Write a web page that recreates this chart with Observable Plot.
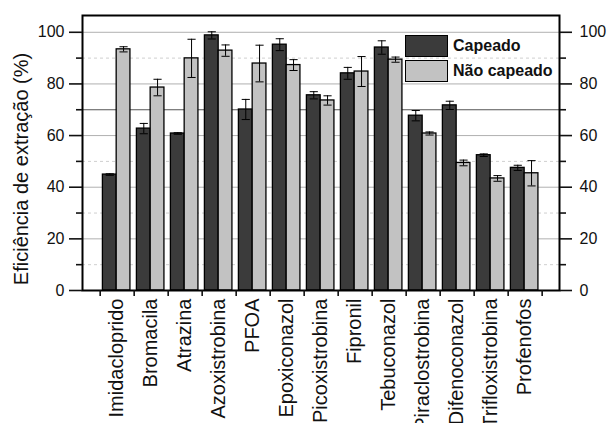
<!DOCTYPE html>
<html>
<head>
<meta charset="utf-8">
<script src="https://cdn.jsdelivr.net/npm/d3@7"></script>
<script src="https://cdn.jsdelivr.net/npm/@observablehq/plot@0.6"></script>
<style>
  html, body { margin: 0; padding: 0; background: white; }
  #wrap { position: relative; width: 609px; height: 423px; overflow: hidden; font-family: "Liberation Sans", Arial, sans-serif; }
  .leg { position: absolute; left: 405px; display: flex; align-items: center; font-weight: bold; font-size: 16px; color: #111; }
  .sw { width: 41px; height: 20px; border: 1.3px solid #000; margin-right: 5px; box-sizing: content-box; }
</style>
</head>
<body>
<div id="wrap"></div>
<script>
const categories = ["Imidacloprido","Bromacila","Atrazina","Azoxistrobina","PFOA","Epoxiconazol","Picoxistrobina","Fipronil","Tebuconazol","Piraclostrobina","Difenoconazol","Trifloxistrobina","Profenofos"];
const seriesNames = ["Capeado", "Não capeado"];
const capeado      = [44.9, 62.7, 60.8, 98.8, 70.1, 95.2, 75.6, 84.1, 94.1, 67.7, 71.7, 52.4, 47.5];
const capeadoErr   = [0.3, 2.0, 0.3, 1.4, 3.9, 2.3, 1.4, 2.3, 2.6, 2.0, 1.6, 0.5, 1.0];
const naoCapeado   = [93.4, 78.6, 89.9, 92.9, 87.9, 87.3, 73.6, 84.8, 89.4, 60.8, 49.4, 43.4, 45.4];
const naoCapeadoErr= [1.0, 3.2, 7.4, 2.2, 7.1, 2.1, 1.8, 5.8, 1.0, 0.6, 1.1, 1.1, 4.9];
const yMajorTicks = [0, 20, 40, 60, 80, 100];
const yMinorTicks = [10, 30, 50, 70, 90];
const yTitle = "Eficiência de extração (%)";

const colors = {"Capeado": "#3b3b3b", "Não capeado": "#c2c2c2"};
// slot of each series inside a category band [i, i+1]
const slot = {"Capeado": [0.08, 0.485], "Não capeado": [0.485, 0.89]};

const rows = [];
categories.forEach((c, i) => {
  rows.push({i, c, s: seriesNames[0], v: capeado[i], e: capeadoErr[i]});
  rows.push({i, c, s: seriesNames[1], v: naoCapeado[i], e: naoCapeadoErr[i]});
});
const mid = d => d.i + (slot[d.s][0] + slot[d.s][1]) / 2;
const boundaries = d3.range(categories.length + 1);
const font = "Liberation Sans, Arial, sans-serif";

const chart = Plot.plot({
  width: 609,
  height: 423,
  marginTop: 15,
  marginBottom: 133,
  marginLeft: 82,
  marginRight: 50,
  style: {fontFamily: font, fontSize: "16px", color: "#111", background: "white", overflow: "hidden"},
  x: {type: "linear", domain: [-0.52, categories.length + 0.51]},
  y: {domain: [0, 106.5]},
  marks: [
    Plot.ruleY([20, 40, 60, 80, 100], {stroke: "#b0b0b0", strokeWidth: 1}),
    Plot.ruleY([10, 30, 50, 90], {stroke: "#cfcfcf", strokeWidth: 1, strokeDasharray: "3,3"}),
    Plot.ruleY([70], {stroke: "#555", strokeWidth: 1.2}),
    Plot.rectY(rows, {
      x1: d => d.i + slot[d.s][0],
      x2: d => d.i + slot[d.s][1],
      y: "v",
      fill: d => colors[d.s],
      stroke: "#000",
      strokeWidth: 1.3
    }),
    Plot.ruleX(rows, {x: mid, y1: d => d.v - d.e, y2: d => d.v + d.e, stroke: "#000", strokeWidth: 1}),
    Plot.link(rows, {x1: d => mid(d) - 0.12, x2: d => mid(d) + 0.12, y1: d => d.v + d.e, y2: d => d.v + d.e, stroke: "#000", strokeWidth: 1}),
    Plot.link(rows, {x1: d => mid(d) - 0.12, x2: d => mid(d) + 0.12, y1: d => d.v - d.e, y2: d => d.v - d.e, stroke: "#000", strokeWidth: 1}),
    Plot.frame({stroke: "#000", strokeWidth: 2}),
    Plot.axisY(yMajorTicks, {anchor: "left", tickSize: 13, tickPadding: 5, fontSize: 16, strokeWidth: 1.6, label: null}),
    Plot.axisY(yMinorTicks, {anchor: "left", tickSize: 6, tickFormat: () => "", strokeWidth: 1.6, label: null}),
    Plot.axisY(yMajorTicks, {anchor: "right", tickSize: 12, tickPadding: 8, fontSize: 16, strokeWidth: 1.6, label: null}),
    Plot.axisY(yMinorTicks, {anchor: "right", tickSize: 6, tickFormat: () => "", strokeWidth: 1.6, label: null}),
    Plot.axisX(boundaries, {anchor: "bottom", tickSize: 6, tickFormat: () => "", strokeWidth: 1.6, label: null}),
    Plot.text(categories, {
      x: (d, i) => i + 0.485,
      y: () => 0,
      text: d => d,
      rotate: -90,
      textAnchor: "end",
      lineAnchor: "middle",
      dy: 8,
      fontSize: 20,
      fill: "#111"
    }),
    Plot.text([yTitle], {
      frameAnchor: "left",
      text: d => d,
      rotate: -90,
      textAnchor: "middle",
      lineAnchor: "middle",
      dx: -61,
      dy: 16,
      fontSize: 20,
      fill: "#111"
    })
  ]
});

const wrap = document.getElementById("wrap");
wrap.appendChild(chart);
seriesNames.forEach((name, k) => {
  const div = document.createElement("div");
  div.className = "leg";
  div.style.top = (35 + k * 25) + "px";
  const sw = document.createElement("div");
  sw.className = "sw";
  sw.style.background = colors[name];
  div.appendChild(sw);
  const t = document.createElement("span");
  t.textContent = name;
  div.appendChild(t);
  wrap.appendChild(div);
});
</script>
</body>
</html>
